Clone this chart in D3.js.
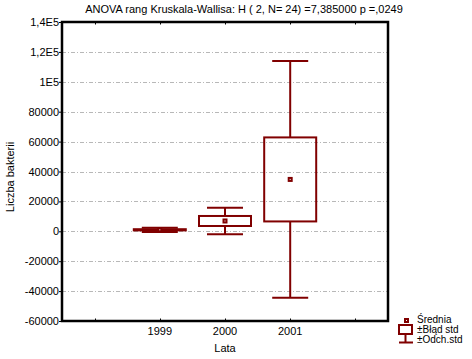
<!DOCTYPE html>
<html>
<head>
<meta charset="utf-8">
<script src="https://cdn.jsdelivr.net/npm/d3@7"></script>
<style>
body { margin: 0; background: #fff; }
text { font-family: "Liberation Sans", Arial, sans-serif; fill: #000; }
</style>
</head>
<body>
<svg id="canvas" width="472" height="359"></svg>
<script>
let slots = ['', '1999', '2000', '2001', '']
let years = ['1999', '2000', '2001']
let means = [1000, 6900, 34700]
let stdErrs = [400, 3350, 28100]
let stdDevs = [1400, 8800, 79200]
let yTicks = [-60000, -40000, -20000, 0, 20000, 40000, 60000, 80000, 100000, 120000, 140000]
let yTickLabels = ['-60000', '-40000', '-20000', '0', '20000', '40000', '60000', '80000', '1E5', '1,2E5', '1,4E5']
let legendLabels = ['Średnia', '±Błąd std', '±Odch.std']

let canvas = d3.select('#canvas')
let color = '#800000'
let plotL = 62, plotR = 388, plotT = 22, plotB = 321

let x = d3.scaleBand().domain(d3.range(slots.length)).range([plotL, plotR])
let y = d3.scaleLinear().domain([-60000, 140000]).range([plotB, plotT])

// gridlines
canvas.append('g').selectAll('line')
    .data(yTicks.slice(1, -1))
    .enter()
    .append('line')
    .attr('x1', plotL).attr('x2', plotR)
    .attr('y1', (d) => Math.round(y(d)) + 0.5)
    .attr('y2', (d) => Math.round(y(d)) + 0.5)
    .attr('stroke', '#b8b8b8')
    .attr('stroke-dasharray', '4,2,1,2')

// y axis labels + ticks
let yAxis = d3.axisLeft(y).tickValues(yTicks).tickSize(3)
    .tickFormat((d, i) => yTickLabels[i])
let yg = canvas.append('g').attr('transform', 'translate(' + plotL + ',0)').call(yAxis)
yg.select('.domain').remove()
yg.selectAll('text').style('font-size', '11px').attr('x', -3)
yg.selectAll('line').attr('stroke', '#000')

// x axis labels
let xg = canvas.append('g').attr('transform', 'translate(0,' + plotB + ')')
    .call(d3.axisBottom(x).tickSize(0).tickFormat((d) => slots[d]))
xg.select('.domain').remove()
xg.selectAll('text').style('font-size', '11px').attr('y', 6)

// small inside ticks top & bottom
slots.forEach((s, i) => {
    let cx = Math.round(x(i) + x.bandwidth() / 2) + 0.5
    canvas.append('line').attr('x1', cx).attr('x2', cx).attr('y1', plotT).attr('y2', plotT + 2.5).attr('stroke', '#000')
    canvas.append('line').attr('x1', cx).attr('x2', cx).attr('y1', plotB).attr('y2', plotB - 2.5).attr('stroke', '#000')
})

// frame
canvas.append('rect')
    .attr('x', plotL).attr('y', plotT)
    .attr('width', plotR - plotL).attr('height', plotB - plotT)
    .attr('fill', 'none').attr('stroke', '#000').attr('stroke-width', 2.5)

// boxes
let boxW = 52, capW = 36
years.forEach((yr, i) => {
    let cx = x(slots.indexOf(yr)) + x.bandwidth() / 2
    let g = canvas.append('g').attr('stroke', color).attr('stroke-width', 2).attr('fill', 'none')
    let hi = y(means[i] + stdDevs[i]), lo = y(means[i] - stdDevs[i])
    let bTop = y(means[i] + stdErrs[i]), bBot = y(means[i] - stdErrs[i])
    g.append('line').attr('x1', cx).attr('x2', cx).attr('y1', hi).attr('y2', bTop)
    g.append('line').attr('x1', cx).attr('x2', cx).attr('y1', bBot).attr('y2', lo)
    g.append('line').attr('x1', cx - capW / 2).attr('x2', cx + capW / 2).attr('y1', hi).attr('y2', hi)
    g.append('line').attr('x1', cx - capW / 2).attr('x2', cx + capW / 2).attr('y1', lo).attr('y2', lo)
    g.append('rect').attr('x', cx - boxW / 2).attr('y', bTop)
        .attr('width', boxW).attr('height', Math.max(bBot - bTop, 1))
    let my = y(means[i])
    canvas.append('rect').attr('x', cx - 2.5).attr('y', my - 2.5).attr('width', 5).attr('height', 5)
        .attr('fill', color)
    canvas.append('rect').attr('x', cx - 0.5).attr('y', my - 0.5).attr('width', 1).attr('height', 1)
        .attr('fill', '#fff')
})

// title
canvas.append('text').attr('x', 244).attr('y', 13).attr('text-anchor', 'middle')
    .style('font-size', '11px')
    .text('ANOVA rang Kruskala-Wallisa: H ( 2, N= 24) =7,385000 p =,0249')

// axis titles
canvas.append('text').attr('x', 225).attr('y', 352).attr('text-anchor', 'middle')
    .style('font-size', '11px').text('Lata')
canvas.append('text').attr('transform', 'translate(14,177) rotate(-90)')
    .attr('text-anchor', 'middle').style('font-size', '11px').text('Liczba bakterii')

// legend
let lg = canvas.append('g')
lg.append('rect').attr('x', 404).attr('y', 318).attr('width', 5).attr('height', 5).attr('fill', color)
lg.append('rect').attr('x', 406).attr('y', 320).attr('width', 1).attr('height', 1).attr('fill', '#fff')
lg.append('rect').attr('x', 399).attr('y', 325).attr('width', 13).attr('height', 9)
    .attr('fill', 'none').attr('stroke', color).attr('stroke-width', 2)
lg.append('line').attr('x1', 405.5).attr('x2', 405.5).attr('y1', 334).attr('y2', 342)
    .attr('stroke', color).attr('stroke-width', 2)
lg.append('line').attr('x1', 399).attr('x2', 413).attr('y1', 342.5).attr('y2', 342.5)
    .attr('stroke', color).attr('stroke-width', 2)
lg.selectAll('text.lbl').data(legendLabels).enter().append('text')
    .attr('x', 417).attr('y', (d, i) => 323 + i * 10)
    .style('font-size', '10px').text((d) => d)
</script>
</body>
</html>
